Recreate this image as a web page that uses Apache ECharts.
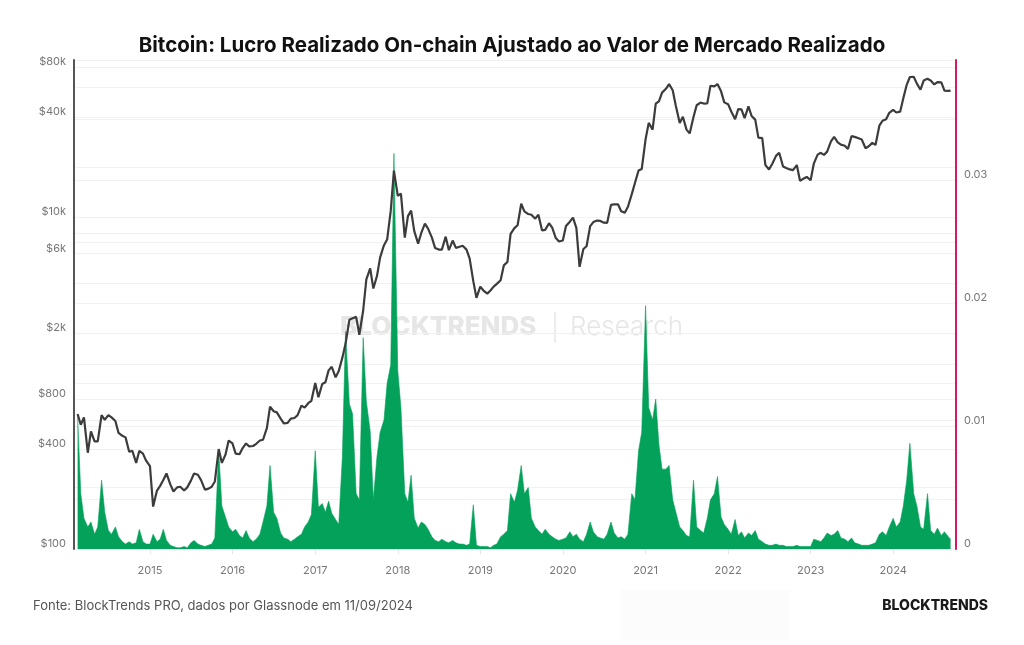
<!DOCTYPE html>
<html>
<head>
<meta charset="utf-8">
<title>Bitcoin: Lucro Realizado On-chain</title>
<script src="https://cdn.jsdelivr.net/npm/echarts@6/dist/echarts.min.js"></script>
<style>
  html, body { margin: 0; padding: 0; background: #fff; }
  #chart { width: 1024px; height: 645px; }
</style>
</head>
<body>
<div id="chart"></div>
<script>
// ── Data (semi-monthly samples: 1st and 15th, from 15 Feb 2014 to 11 Sep 2024) ──

// BTC price, USD
const btcPrice = [
  /* 2014 */ 650, 560, 620, 380, 510, 445, 445, 640, 600, 640, 620, 590, 500, 480, 470, 385, 390, 330, 390, 375, 340,
  /* 2015 */ 315, 180, 225, 240, 260, 285, 245, 222, 235, 237, 225, 235, 258, 285, 280, 260, 228, 230, 237, 255, 400, 330, 370, 450,
  /* 2016 */ 432, 375, 372, 405, 432, 415, 417, 430, 450, 455, 535, 720, 675, 665, 610, 570, 575, 610, 615, 640, 730, 710, 755, 780,
  /* 2017 */ 1000, 820, 985, 1010, 1190, 1250, 1080, 1180, 1420, 1720, 2400, 2450, 2500, 1950, 2730, 4200, 4900, 3700, 4400, 5700, 6750, 7300, 10900, 19000,
  /* 2018 */ 13400, 13800, 7500, 10100, 10900, 8200, 6900, 8000, 9100, 8500, 7500, 6500, 6350, 6350, 7600, 6300, 7200, 6500, 6600, 6700, 6350, 5600, 4100, 3250,
  /* 2019 */ 3800, 3600, 3450, 3600, 3800, 3950, 4150, 5100, 5350, 7900, 8550, 8900, 12000, 10800, 10400, 10300, 9750, 10300, 8300, 8350, 9150, 8600, 7450, 7100,
  /* 2020 */ 7200, 8800, 9350, 9900, 8550, 5000, 6400, 6650, 8800, 9300, 9500, 9450, 9230, 9200, 11800, 11900, 11900, 10800, 10600, 11500, 13700, 16000, 19000, 19400,
  /* 2021 */ 29300, 36800, 33500, 48000, 49600, 56000, 59000, 63000, 57800, 46500, 36700, 40100, 33500, 31800, 39900, 47000, 48800, 48100, 48200, 61600, 61000, 63000, 57000, 48900,
  /* 2022 */ 47700, 43100, 38700, 44500, 44400, 39300, 46300, 40500, 38500, 30000, 29800, 20500, 19300, 20800, 23300, 24300, 20100, 19700, 19300, 19100, 20500, 16500, 17000, 17400,
  /* 2023 */ 16600, 20900, 23700, 24300, 23600, 24700, 28500, 30300, 28100, 27200, 26800, 25600, 30600, 30300, 29700, 29200, 25900, 26600, 27900, 27100, 35400, 37900, 38700, 42300,
  /* 2024 */ 44100, 42500, 43000, 51800, 62400, 69500, 69700, 63400, 58300, 66200, 67800, 66200, 62700, 64800, 64600, 57600, 57300, 57600,
];

// Realized profit adjusted to realized cap
const profitRatio = [
  /* 2014 */ .0108, .0045, .0025, .0018, .0022, .0012, .0018, .0056, .003, .0015, .0012, .0018, .001, .0006, .0004, .0006, .0004, .0005, .0016, .0006, .0004,
  /* 2015 */ .0004, .0012, .0006, .0008, .0016, .0007, .0003, .0002, .0001, .0001, .0002, .0001, .0005, .0007, .0004, .0003, .0002, .0003, .0004, .0009, .008, .0035, .0026, .0018,
  /* 2016 */ .0014, .0016, .0011, .0009, .0015, .0009, .0006, .0008, .0012, .0022, .0035, .0068, .003, .0025, .0013, .0009, .0008, .0006, .0008, .001, .0012, .0018, .0022, .0028,
  /* 2017 */ .008, .0034, .0037, .003, .0039, .0029, .0024, .002, .0075, .0177, .0118, .011, .0045, .004, .0172, .012, .0096, .004, .0075, .0095, .0105, .0135, .015, .0322,
  /* 2018 */ .0145, .0115, .0045, .0038, .006, .0025, .0017, .0022, .002, .0016, .001, .0007, .0006, .0008, .0006, .0005, .0007, .0005, .0004, .0004, .0003, .0004, .0036, .0003,
  /* 2019 */ .0002, .0002, .0002, .0001, .0003, .0004, .001, .0012, .0015, .0045, .0038, .0048, .0068, .0045, .005, .0025, .0018, .0015, .0012, .0016, .0012, .001, .0008, .0007,
  /* 2020 */ .0008, .0009, .0014, .001, .0012, .0008, .0006, .0012, .0022, .0014, .001, .0009, .0008, .0012, .0022, .0013, .0009, .001, .0008, .0012, .0045, .004, .008, .0095,
  /* 2021 */ .0198, .0115, .0105, .0122, .0085, .0065, .0065, .0068, .004, .003, .0018, .0015, .0011, .001, .0056, .0018, .0015, .0013, .0025, .004, .0045, .0059, .0026, .002,
  /* 2022 */ .0016, .0012, .0024, .0011, .0014, .0009, .0013, .0011, .0015, .0008, .0006, .0004, .0003, .0003, .0004, .0003, .0003, .0002, .0002, .0002, .0003, .0002, .0002, .0002,
  /* 2023 */ .0002, .0008, .0007, .0006, .0009, .0013, .0011, .0012, .0015, .0009, .0008, .0006, .0009, .0005, .0004, .0003, .0003, .0003, .0004, .0005, .0012, .0014, .0011, .0018,
  /* 2024 */ .0025, .0018, .0022, .0035, .0056, .0086, .0045, .0035, .0018, .0016, .0045, .0015, .0012, .0017, .0011, .0014, .001, .0008,
];

const priceLabels = [100, 400, 800, 2000, 6000, 10000, 40000, 80000];
const priceGrid   = [100, 200, 400, 600, 800, 1000, 2000, 4000, 6000, 8000, 10000, 20000, 40000, 60000, 80000];
const ratioLabels = [0, 0.01, 0.02, 0.03];

const FONT = 'Inter, "Noto Sans", sans-serif';
const YEAR_MS = 365.25 * 24 * 3600 * 1000;


// ── Sample dates ─────────────────────────────────────────────

const pad = n => String(n).padStart(2, '0');
const dates = [];
for (let y = 2014; y <= 2024; y++) {
  for (let m = 1; m <= 12; m++) {
    [1, 15].forEach(d => {
      const s = `${y}-${pad(m)}-${pad(d)}`;
      if (s >= '2014-02-15' && s <= '2024-09-01') dates.push(s);
    });
  }
}
dates.push('2024-09-11');

const priceData = dates.map((d, i) => [d, btcPrice[i]]);
const ratioData = dates.map((d, i) => [d, profitRatio[i]]);


// ── Chart ────────────────────────────────────────────────────

const chart = echarts.init(document.getElementById('chart'), null, { renderer: 'canvas' });

chart.setOption({
  backgroundColor: '#ffffff',
  animation: false,
  textStyle: { fontFamily: FONT },
  title: {
    text: 'Bitcoin: Lucro Realizado On-chain Ajustado ao Valor de Mercado Realizado',
    left: 'center',
    top: 30,
    textStyle: { fontFamily: FONT, fontSize: 20.5, fontWeight: 700, color: '#111' },
  },
  grid: { left: 74, right: 68, top: 60, bottom: 96, outerBoundsMode: 'none' },
  xAxis: {
    type: 'time',
    min: '2014-01-30',
    max: '2024-10-05',
    minInterval: YEAR_MS,
    maxInterval: YEAR_MS,
    axisLine: { show: false },
    axisTick: { show: true, length: 5, lineStyle: { color: '#e6e6e6' } },
    minorTick: { show: false },
    splitLine: { show: false },
    axisLabel: {
      formatter: '{yyyy}',
      color: '#777', fontSize: 11, margin: 16, fontFamily: FONT,
      showMinLabel: false, showMaxLabel: false,
    },
  },
  yAxis: [
    {
      type: 'log',
      logBase: 10,
      min: 100,
      max: 88000,
      position: 'left',
      axisLine: { show: true, lineStyle: { color: '#555', width: 2 } },
      axisTick: { show: false, customValues: priceGrid },
      splitLine: { show: true, lineStyle: { color: '#f1f1f1', width: 1 } },
      axisLabel: {
        customValues: priceLabels,
        formatter: v => v >= 1000 ? '$' + Math.round(v / 1000) + 'k' : '$' + Math.round(v),
        color: '#777', fontSize: 11, margin: 8, verticalAlign: 'bottom', fontFamily: FONT,
      },
    },
    {
      type: 'value',
      min: 0,
      max: 0.0398,
      interval: 0.005,
      position: 'right',
      axisLine: { show: true, lineStyle: { color: '#d6195c', width: 2 } },
      axisTick: { show: false },
      splitLine: { show: true, lineStyle: { color: '#f1f1f1', width: 1 } },
      axisLabel: {
        customValues: ratioLabels,
        formatter: v => String(v),
        color: '#777', fontSize: 11, margin: 8, verticalAlign: 'bottom', fontFamily: FONT,
      },
    },
  ],
  graphic: [
    {
      type: 'group', z: -10, silent: true,
      children: [
        { type: 'text', x: 340, y: 327, style: { text: 'BLOCKTRENDS', font: '800 26px ' + FONT, fill: '#e6e6e6', verticalAlign: 'middle' } },
        { type: 'line', shape: { x1: 555, y1: 312, x2: 555, y2: 343 }, style: { stroke: '#e6e6e6', lineWidth: 1.5 } },
        { type: 'text', x: 570, y: 327, style: { text: 'Research', font: '300 26px ' + FONT, fill: '#e6e6e6', verticalAlign: 'middle' } },
      ],
    },
    { type: 'rect', z: -20, silent: true, shape: { x: 620, y: 590, width: 170, height: 50 }, style: { fill: '#fcfcfc' } },
    {
      type: 'text', left: 33, top: 600,
      style: { text: 'Fonte: BlockTrends PRO, dados por Glassnode em 11/09/2024', font: '13px ' + FONT, fill: '#555' },
    },
    {
      type: 'text', right: 36, top: 599,
      style: { text: 'BLOCKTRENDS', font: '800 14px ' + FONT, fill: '#1a1a1a' },
    },
  ],
  series: [
    {
      name: 'Lucro Realizado Ajustado',
      type: 'line',
      yAxisIndex: 1,
      data: ratioData,
      showSymbol: false,
      lineStyle: { color: '#03a159', width: 0.6 },
      areaStyle: { color: '#03a159', opacity: 1 },
      z: 2,
    },
    {
      name: 'Preço BTC',
      type: 'line',
      yAxisIndex: 0,
      data: priceData,
      showSymbol: false,
      lineStyle: { color: '#3c3c3c', width: 2.2 },
      z: 3,
    },
  ],
});
</script>
</body>
</html>
